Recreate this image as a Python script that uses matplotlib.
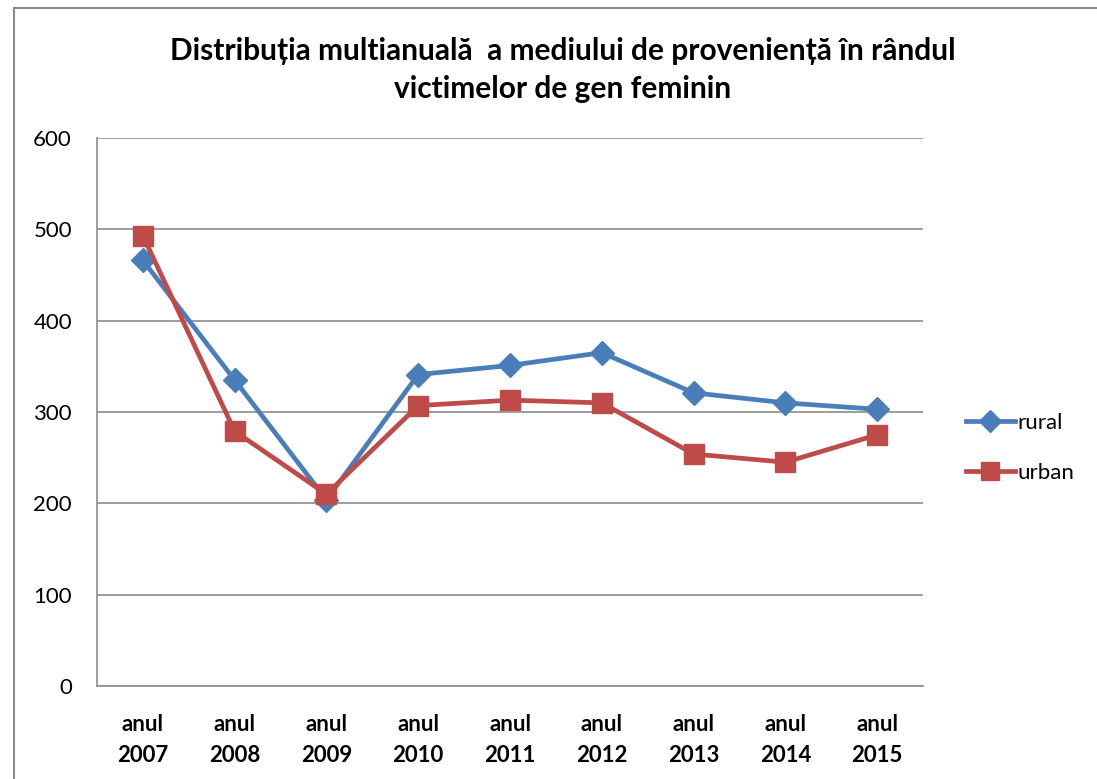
import matplotlib
matplotlib.use("Agg")
from matplotlib import pyplot as plt
from matplotlib.patches import Rectangle

# values
years = ["anul\n2007", "anul\n2008", "anul\n2009", "anul\n2010", "anul\n2011",
         "anul\n2012", "anul\n2013", "anul\n2014", "anul\n2015"]
rural = [466, 335, 204, 341, 351, 365, 321, 310, 303]
urban = [493, 279, 210, 307, 313, 310, 254, 245, 275]
yticks = [0, 100, 200, 300, 400, 500, 600]

title = "Distribuția multianuală  a mediului de proveniență în rândul\nvictimelor de gen feminin"

plt.rcParams['font.family'] = ['Lato', 'DejaVu Sans']

fig = plt.figure(figsize=(10.97, 7.79), dpi=100)
ax = fig.add_axes([97 / 1097, 1 - 686 / 779, (923 - 97) / 1097, (686 - 138) / 779])

x = list(range(len(years)))
ax.plot(x, rural, color='#4A7EBB', marker='D', markersize=12, linewidth=3.4,
        label='rural', zorder=3)
ax.plot(x, urban, color='#BE4B48', marker='s', markersize=15, linewidth=3.4,
        label='urban', zorder=3)

ax.set_xlim(-0.5, len(years) - 0.5)
ax.set_ylim(0, 600)
ax.set_yticks(yticks)
ax.set_xticks(x)
ax.set_xticklabels(years, fontweight='bold', fontsize=16, linespacing=1.6)
ax.tick_params(axis='y', labelsize=16, length=0, pad=18)
ax.tick_params(axis='x', length=0, pad=20)
ax.grid(axis='y', color='#8c8c8c', linewidth=1.2)
ax.set_axisbelow(True)
for side in ['top', 'right']:
    ax.spines[side].set_visible(False)
ax.spines['left'].set_color('#8c8c8c')
ax.spines['bottom'].set_color('#8c8c8c')
ax.spines['left'].set_linewidth(1.2)
ax.spines['bottom'].set_linewidth(1.2)

fig.text(563 / 1097, 1 - 70 / 779, title, ha='center', va='center',
         fontsize=21.5, fontweight='bold', linespacing=1.4)

fig.legend(loc='center left', bbox_to_anchor=(946 / 1097, 1 - 448 / 779),
           frameon=False, fontsize=16, handlelength=2.2, handletextpad=0.1,
           labelspacing=1.35, markerscale=0.9)

# chart area border
fig.patches.append(Rectangle((14 / 1097, -0.01), 1.1, 1 - 8 / 779 + 0.01,
                             transform=fig.transFigure, fill=False,
                             edgecolor='#8c8c8c', linewidth=1.5))

fig.savefig("out.png", dpi=100)
